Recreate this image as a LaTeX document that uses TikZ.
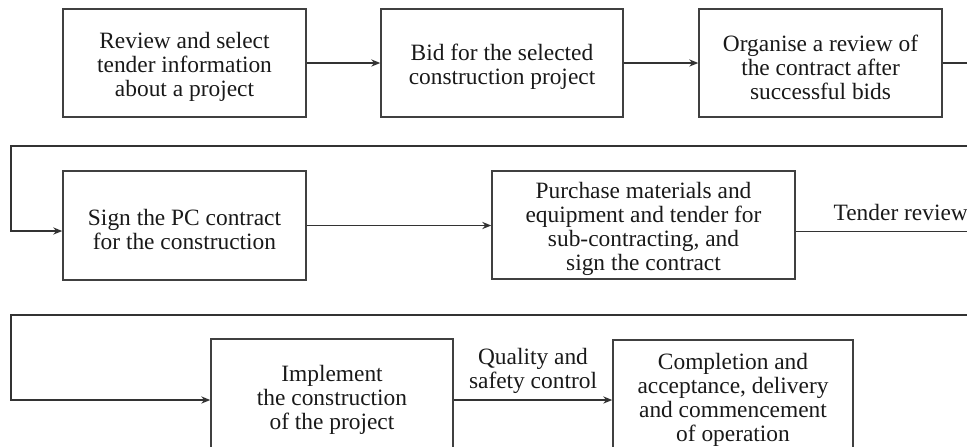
\documentclass[tikz,border=0pt]{standalone}
\usepackage{fontspec}
\setmainfont{Liberation Serif}
\usetikzlibrary{arrows.meta, positioning}
\newcommand{\haut}{\rule{0pt}{12.3pt}}

\begin{document}
\begin{tikzpicture}[x=0.5pt,y=-0.5pt,line width=.65pt,>={Stealth[length=4.5pt,width=3.6pt]},
    etape/.style={shape=rectangle,draw=black!75,line width=.75pt,inner sep=0pt,align=center,text=black!90,
      font=\fontsize{11.7}{12}\selectfont},
    lbl/.style={inner sep=0pt,align=center,text=black!90,font=\fontsize{11.7}{12}\selectfont}]
    \clip (0,0) rectangle (967,446);
    \node (n1) at (184.5,63) [etape,minimum width=121.5pt,minimum height=54pt] {\haut Review and select\\tender information\\about a project}; %
    \node (n2) at (502,63) [etape,minimum width=121pt,minimum height=54pt] {\haut Bid for the selected\\construction project}; %
    \node (n3) at (820.5,63) [etape,minimum width=121.5pt,minimum height=54pt] {\haut Organise a review of\\the contract after\\successful bids}; %
    \node (n4) at (184.5,225.5) [etape,minimum width=121.5pt,minimum height=54.5pt] {\haut Sign the PC contract\\for the construction}; %
    \node (n5) at (643.5,225) [etape,minimum width=151.5pt,minimum height=54pt] {\haut Purchase materials and\\equipment and tender for\\sub-contracting, and\\sign the contract}; %
    \node (n6) at (332,400) [etape,minimum width=121pt,minimum height=61pt] {Implement\\the construction\\of the project}; %
    \node (n7) at (733,396) [etape,minimum width=120pt,minimum height=56pt] {\haut Completion and\\acceptance, delivery\\and commencement\\of operation}; %
    \node (tr) at (833,220) [lbl,anchor=base west] {Tender review}; %
    \node (qs) at (533,394) [lbl,anchor=south] {Quality and\\safety control}; %

    %%%% turning points
    \coordinate (r1) at (995,146); %
    \coordinate (l1) at (11,146); %
    \coordinate (r2) at (995,315); %
    \coordinate (l2) at (11,315); %

    %%%% arcs
    \draw [color=black!80,->] (n1) to (n2); %
    \draw [color=black!80,->] (n2) to (n3); %
    \draw [color=black!80,->] (n3.east) -| (r1) -- (l1) |- ([yshift=-2.75pt]n4.west); %
    \draw [color=black!80,->] (n4.east) -- (n4.east -| n5.west); %
    \draw [color=black!80,->] ([yshift=-3.3pt]n5.east) -| (r2) -- (l2) |- (n6.west); %
    \draw [color=black!80,->] (n6.east) -- (n6.east -| n7.west); %
\end{tikzpicture}
\end{document}
